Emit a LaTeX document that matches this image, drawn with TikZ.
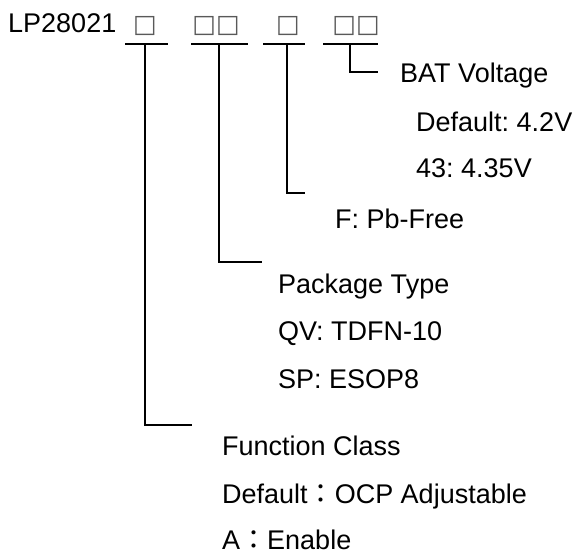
\documentclass[tikz,border=0pt]{standalone}
\usepackage{fontspec}
\setmainfont{Liberation Sans}
\newfontfamily\boxfont{DejaVu Sans}
\newfontfamily\cjk{Noto Sans CJK TC}
\usepackage{tikz}
\usetikzlibrary{calc}
\tikzset{
	txt/.style={anchor=base west, inner sep=0pt, font=\fontsize{27}{30}\selectfont},
	slot/.style={anchor=base, inner sep=0pt, text=black!65, font=\boxfont\fontsize{25}{30}\selectfont},
	lead/.style={line width=1.5pt, black}
}
\def\fcolon{{\cjk ：}}
\frenchspacing

\begin{document}
\begin{tikzpicture}[x=1pt, y=-1pt]
			%%%%% START %%%%%
			\useasboundingbox (0, 0) rectangle (575, 554);
			
			\node[txt] (part) at (8, 32) {LP28021};
			\node[slot] (s1) at (145, 32) {□};
			\node[slot] (s2) at (216, 32) {□□};
			\node[slot] (s3) at (288, 32) {□};
			\node[slot] (s4) at (356, 32) {□□};
			
			\draw[lead] (125, 44) -- (168, 44);
			\draw[lead] (191, 44) -- (248, 44);
			\draw[lead] (263, 44) -- (305, 44);
			\draw[lead] (323, 44) -- (378, 44);
			
			\coordinate (e4) at (378, 72);
			\coordinate (e3) at (305, 193);
			\coordinate (e2) at (262, 262);
			\coordinate (e1) at (192, 425);
			
			\draw[lead] (350, 44) |- (e4);
			\draw[lead] (287, 44) |- (e3);
			\draw[lead] (219, 44) |- (e2);
			\draw[lead] (145, 44) |- (e1);
			
			\node[txt] (bat) at (400, 82) {BAT Voltage};
			\node[txt] (bat1) at (416, 131) {Default: 4.2V};
			\node[txt] (bat2) at (416, 177) {43: 4.35V};
			
			\node[txt] (pb) at (335, 228) {F: Pb-Free};
			
			\node[txt] (pkg) at (278, 293) {Package Type};
			\node[txt] (pkg1) at (278, 340) {QV: TDFN-10};
			\node[txt] (pkg2) at (278, 388) {SP: ESOP8};
			
			\node[txt] (fn) at (222, 455) {Function Class};
			\node[txt] (fn1) at (222, 503) {Default\fcolon OCP Adjustable};
			\node[txt] (fn2) at (222, 549) {A\fcolon Enable};
			%%%%% END %%%%%
\end{tikzpicture}
\end{document}
